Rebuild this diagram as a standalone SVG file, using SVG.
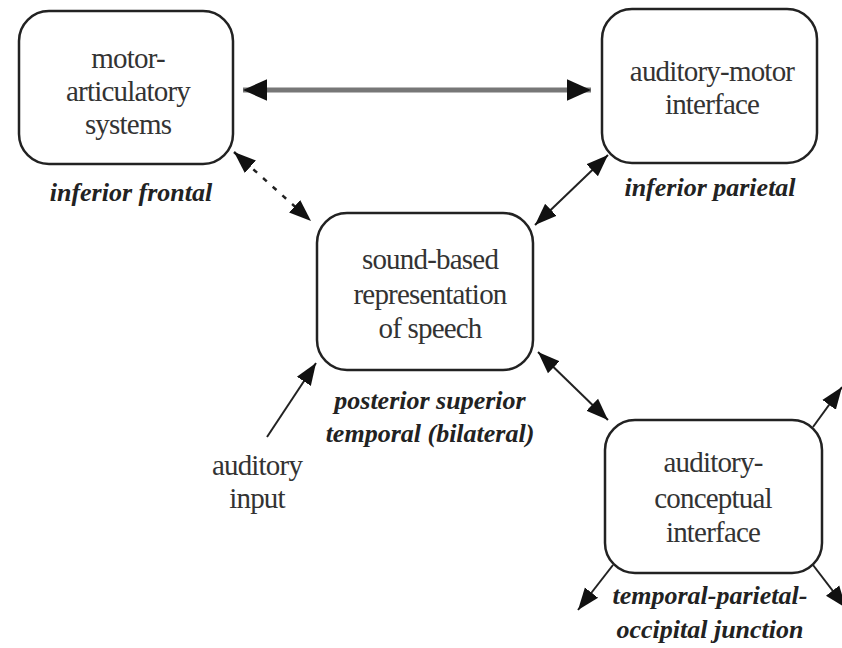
<svg xmlns="http://www.w3.org/2000/svg" width="842" height="648" viewBox="0 0 842 648">
<defs>
<marker id="ah" viewBox="0 0 10 10" refX="10" refY="5" markerWidth="22" markerHeight="22" markerUnits="userSpaceOnUse" orient="auto-start-reverse">
<path d="M0,1.2 L10,5 L0,8.8 z" fill="#111"/>
</marker>
<marker id="ahb" viewBox="0 0 10 10" refX="10" refY="5" markerWidth="24" markerHeight="24" markerUnits="userSpaceOnUse" orient="auto-start-reverse">
<path d="M0,0.5 L10,5 L0,9.5 z" fill="#111"/>
</marker>
</defs>
<rect width="842" height="648" fill="#fff"/>
<g id="connectors" stroke="#222" stroke-width="2" fill="none">
<line x1="243" y1="90" x2="591" y2="90" stroke="#777" stroke-width="5" marker-start="url(#ahb)" marker-end="url(#ahb)"/>
<line x1="234" y1="152" x2="311" y2="221" stroke-dasharray="5,8" stroke-width="2.5" marker-start="url(#ah)" marker-end="url(#ah)"/>
<line x1="608" y1="155" x2="535" y2="225" marker-start="url(#ah)" marker-end="url(#ah)"/>
<line x1="538" y1="352" x2="608" y2="420" marker-start="url(#ah)" marker-end="url(#ah)"/>
<line x1="267" y1="437" x2="316" y2="363" marker-end="url(#ah)"/>
<line x1="813" y1="427" x2="842" y2="387" marker-end="url(#ah)"/>
<line x1="613" y1="565" x2="578" y2="610" marker-end="url(#ah)"/>
<line x1="813" y1="565" x2="846" y2="608" marker-end="url(#ah)"/>
</g>
<g fill="#fff" stroke="#222" stroke-width="2.5">
<rect id="motor-box" x="19" y="11" width="214" height="153" rx="30"/>
<rect id="auditory-motor-box" x="602" y="9" width="215" height="154" rx="30"/>
<rect id="sound-box" x="317" y="213" width="216" height="157" rx="30"/>
<rect id="conceptual-box" x="605" y="420" width="217" height="153" rx="30"/>
</g>
<g font-family="Liberation Serif, serif" text-anchor="middle">
<g font-size="29" fill="#333" letter-spacing="-0.8">
<g id="motor">
<text x="128" y="68">motor-</text>
<text x="128" y="101">articulatory</text>
<text x="128" y="134">systems</text>
</g>
<g id="auditory-motor">
<text x="712" y="81">auditory-motor</text>
<text x="712" y="114">interface</text>
</g>
<g id="sound">
<text x="430" y="269">sound-based</text>
<text x="430" y="304">representation</text>
<text x="430" y="338">of speech</text>
</g>
<g id="auditory-input">
<text x="257" y="475">auditory</text>
<text x="257" y="508">input</text>
</g>
<g id="conceptual">
<text x="713" y="472">auditory-</text>
<text x="713" y="508">conceptual</text>
<text x="713" y="542">interface</text>
</g>
</g>
<g id="regions" font-size="26" font-weight="bold" font-style="italic" fill="#222">
<text x="131" y="201">inferior frontal</text>
<text x="710" y="196">inferior parietal</text>
<text x="430" y="409">posterior superior</text>
<text x="430" y="442">temporal (bilateral)</text>
<text x="710" y="604">temporal-parietal-</text>
<text x="710" y="638">occipital junction</text>
</g>
</g>
</svg>
